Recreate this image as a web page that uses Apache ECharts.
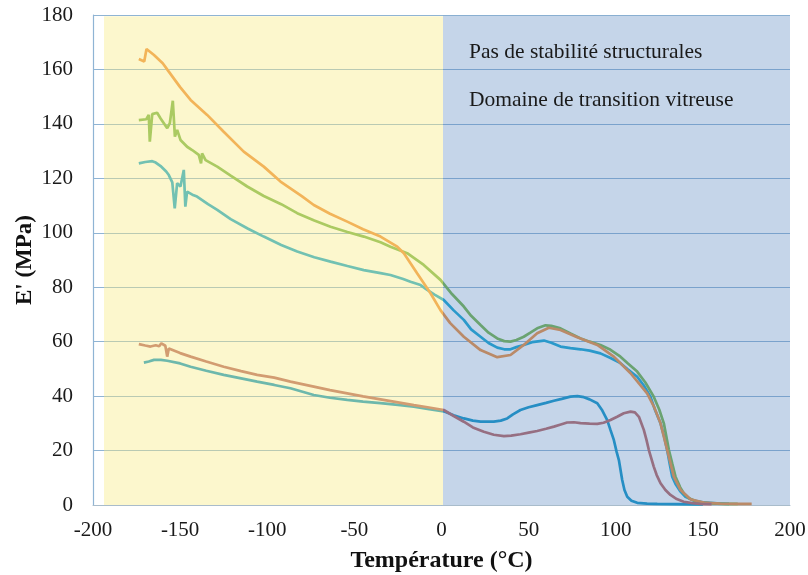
<!DOCTYPE html>
<html>
<head>
<meta charset="utf-8">
<script src="https://cdn.jsdelivr.net/npm/echarts@6/dist/echarts.min.js"></script>
<style>
  html, body { margin: 0; padding: 0; background: #ffffff; }
  #chart { width: 808px; height: 575px; }
</style>
</head>
<body>
<div id="chart"></div>
<script>
// Storage modulus E' (MPa) versus temperature (°C), five DMA runs.

// Upper orange run
const tempA = [-173.7, -170.6, -169.3, -165, -160, -156.5, -150, -144, -134.5, -125, -113.5, -102, -92.4, -80, -73.3, -64, -54.1, -45, -35, -25.4, -21.6, -14, -6.3, -0.6, 5, 12.8, 22.4, 32, 39.6, 47.2, 54.9, 61.6, 68.3, 77.9, 89.4, 98.9, 108.5, 118, 122, 125.7, 129.5, 133.3, 137.2, 142.9, 150.5, 160, 170, 178];
const modA  = [163.8, 162.9, 167.5, 165.3, 162.3, 159.2, 153.5, 148.8, 143.3, 137.1, 129.8, 124.3, 118.8, 113.4, 110.2, 107, 104.1, 101.3, 98.6, 94.9, 92.5, 85.1, 77.8, 71.6, 66.8, 61.8, 56.9, 54.3, 55.1, 58.8, 63.1, 65.1, 64.3, 61.6, 58.8, 54.5, 48.4, 41, 36, 30, 20.2, 10.4, 5.5, 2.1, 0.9, 0.5, 0.4, 0.4];

// Upper green run
const tempB = [-173.7, -169.4, -168, -167.4, -166, -163.2, -161.2, -157.4, -155.9, -154.2, -153, -151.7, -149.8, -146, -143.1, -139.3, -138, -137.4, -135.4, -128.7, -121, -111.5, -102, -92, -82.8, -73, -63.7, -54, -44.6, -35, -29.3, -19.7, -10.2, -0.6, 6, 12.8, 17, 22.4, 27, 32, 36, 39.6, 43, 47.2, 51, 54.9, 59.7, 63, 68.3, 74, 79.8, 85, 91.2, 97, 102.7, 107, 112.3, 117, 121.8, 125, 127.6, 130.5, 132.5, 134.3, 137, 139, 142, 146.7, 154, 162, 170];
const modB  = [141.4, 141.7, 143.3, 133.5, 143.6, 144.1, 142, 138.4, 140.3, 148.5, 135.3, 137.8, 134.1, 131.6, 130.4, 128.6, 125.5, 129.2, 126.7, 124.3, 121, 117, 113.5, 110.5, 107.2, 104.5, 102.2, 100.3, 98.6, 96.5, 94.9, 92.5, 88.2, 82.7, 77.5, 72.9, 69.5, 66.1, 63.3, 61.2, 60.2, 60, 60.6, 61.8, 63.3, 64.9, 66, 65.8, 64.9, 63, 61.2, 60, 58.8, 57, 54.5, 52, 49, 45, 39.8, 35, 30, 20.2, 15, 10.4, 6.5, 4.3, 2.5, 1.2, 0.6, 0.4, 0.4];

// Upper teal run
const tempC = [-173.7, -170, -166, -164, -161.2, -158, -156.5, -154.5, -153.1, -151.7, -149.8, -147.9, -147, -146, -143, -140.3, -134, -128.7, -121, -111, -102, -92, -82.8, -73, -63.7, -54, -44.6, -35, -29.3, -22, -17.8, -12, -8.2, -4, 1.3, 7, 12.8, 17, 22.4, 27, 32, 36, 39.6, 43, 47.2, 52, 58.8, 63, 68.3, 74, 79.8, 85, 91.2, 97, 102.7, 107, 112.3, 116, 119.9, 122.5, 125.7, 127.8, 129.5, 131, 132.4, 134.5, 137.2, 140, 144.8, 150, 158.2, 165];
const modC  = [125.5, 126, 126.3, 125.8, 124.5, 122.5, 121.2, 118.5, 109, 118.2, 117, 123.1, 109.6, 115.1, 114, 113.3, 110.5, 108.4, 105, 101.5, 98.6, 95.5, 93.1, 91, 89.4, 87.8, 86.3, 85.2, 84.5, 83, 82, 80.8, 79, 77.3, 75.3, 71.5, 68, 64.5, 61.8, 59.5, 57.8, 57.2, 57.2, 58, 58.8, 59.8, 60.4, 59.6, 58.2, 57.6, 57.2, 56.7, 55.7, 54, 52.1, 49.8, 47.1, 44, 39.8, 35, 30, 25, 20.2, 15, 10.4, 7.5, 4.9, 3, 1.6, 1, 0.6, 0.4];

// Lower tan run
const tempD = [-173.7, -170, -167, -164, -162, -160.8, -158.5, -157.4, -156.5, -155.5, -150, -144, -135, -125, -115, -105.8, -96, -86.7, -73.3, -64, -54.1, -45, -35, -25, -15.9, -8, 1.3, 7, 12.8, 18, 24.3, 30, 35.8, 40, 45.3, 50, 54.9, 60, 64.5, 68, 72.1, 76, 79.8, 85, 89.4, 93, 97, 100.8, 104.6, 108.5, 111, 113.3, 116.1, 117.6, 119, 121.8, 123.5, 125.7, 128.5, 131.4, 135, 139, 144, 148.6, 155];
const modD  = [59.1, 58.6, 58.2, 58.7, 58.3, 59.4, 58.5, 54.5, 57.5, 56.9, 55.8, 54.5, 52.7, 50.8, 49.2, 47.8, 46.8, 45.3, 43.5, 42.2, 41, 39.9, 38.8, 37.7, 36.7, 35.9, 34.9, 32.7, 30.6, 28.5, 26.9, 25.8, 25.3, 25.5, 26, 26.6, 27.2, 28, 28.8, 29.5, 30.3, 30.4, 30.1, 29.9, 29.8, 30.2, 31.2, 32.4, 33.7, 34.3, 34, 32.4, 27.6, 24, 20.2, 14.1, 11, 8, 5.5, 3.7, 2.2, 1.2, 0.7, 0.4, 0.3];

// Lower teal run
const tempE = [-170.8, -168, -165, -161, -157.4, -150, -144, -135, -125, -115, -105.8, -96, -86.7, -73.3, -64, -54.1, -45, -35, -25, -15.9, -8, 1.3, 7, 12.8, 18, 22.4, 30, 34, 37.7, 41, 45.3, 50, 54.9, 60, 64.5, 69, 74, 78, 81.7, 85, 89.4, 92, 95.1, 97, 98.9, 100.5, 101.8, 103.7, 105, 106.6, 109, 112.3, 118, 123.8, 135, 146.7, 150];
const modE  = [52.3, 52.7, 53.3, 53.3, 53, 52, 50.8, 49.3, 47.8, 46.5, 45.3, 44.1, 42.9, 40.4, 39.4, 38.6, 38, 37.4, 36.8, 36.1, 35.3, 34.4, 33, 31.8, 31, 30.6, 30.6, 31, 31.8, 33.3, 34.9, 35.9, 36.7, 37.5, 38.3, 39, 39.8, 40, 39.6, 38.8, 37.4, 35, 31.2, 27.5, 23.9, 19.5, 16.5, 9.2, 5.5, 3, 1.6, 0.8, 0.5, 0.4, 0.3, 0.2, 0.2];

// Temperature bands laid over the curves: [from, to, top]
const bandLow  = [-193.7, 1, 179.5];
const bandHigh = [1, 200, 179.7];
const bandFill = ['rgba(247,236,130,0.40)', 'rgba(79,129,189,0.33)'];

// Axis ticks
const xTicks = { min: -200, max: 200, step: 50 };
const yTicks = { min: 0, max: 180, step: 20 };

const serif = "'Liberation Serif', 'Times New Roman', serif";

function pairs(t, v) { return t.map((x, i) => [x, v[i]]); }

const runs = [
  { name: 'C', t: tempC, v: modC, color: 'rgb(25,166,210)' },
  { name: 'B', t: tempB, v: modB, color: 'rgb(120,181,77)' },
  { name: 'A', t: tempA, v: modA, color: 'rgb(239,143,63)' },
  { name: 'E', t: tempE, v: modE, color: 'rgb(18,150,200)' },
  { name: 'D', t: tempD, v: modD, color: 'rgb(186,104,102)' }
];

const series = runs.map((r, i) => ({
  name: r.name,
  type: 'line',
  data: pairs(r.t, r.v),
  showSymbol: false,
  symbol: 'none',
  lineStyle: { width: 2.7, color: r.color },
  z: 3 + i
}));

// Translucent temperature bands drawn above the curves
series.push({
  type: 'custom',
  silent: true,
  z: 20,
  clip: false,
  encode: { x: [0, 1], y: 2 },
  data: [bandLow, bandHigh],
  renderItem: function (params, api) {
    const p0 = api.coord([api.value(0), api.value(2)]);
    const p1 = api.coord([api.value(1), 0]);
    const x0 = Math.round(p0[0]), x1 = Math.round(p1[0]);
    return {
      type: 'rect',
      shape: { x: x0, y: p0[1], width: x1 - x0, height: p1[1] - p0[1] },
      style: { fill: bandFill[params.dataIndex], stroke: null, lineWidth: 0 }
    };
  }
});

const chart = echarts.init(document.getElementById('chart'), null, { renderer: 'canvas' });
chart.setOption({
  animation: false,
  backgroundColor: '#ffffff',
  grid: { left: 93, right: 18, top: 15, bottom: 70, containLabel: false, outerBoundsMode: 'none' },
  xAxis: {
    type: 'value',
    min: xTicks.min, max: xTicks.max, interval: xTicks.step,
    name: 'Température (°C)',
    nameLocation: 'middle',
    nameGap: 44,
    nameMoveOverlap: false,
    nameTextStyle: { fontFamily: serif, fontWeight: 'bold', fontSize: 24, color: '#111' },
    axisLine: { show: true, onZero: false, lineStyle: { color: '#a9bccb', width: 1 } },
    axisTick: { show: false },
    splitLine: { show: false },
    axisLabel: { fontFamily: serif, fontSize: 21, color: '#1a1a1a', margin: 15 }
  },
  yAxis: {
    type: 'value',
    min: yTicks.min, max: yTicks.max, interval: yTicks.step,
    name: "E' (MPa)",
    nameLocation: 'middle',
    nameGap: 56,
    nameMoveOverlap: false,
    nameTextStyle: { fontFamily: serif, fontWeight: 'bold', fontSize: 23, color: '#111' },
    axisLine: { show: true, onZero: false, lineStyle: { color: '#8fb4d4', width: 1.2 } },
    axisTick: { show: false },
    splitLine: { show: true, lineStyle: { color: '#8fb4d4', width: 1.2 } },
    axisLabel: { fontFamily: serif, fontSize: 21, color: '#1a1a1a', margin: 20 }
  },
  series: series,
  graphic: [
    {
      type: 'text', x: 469, y: 52, z: 100,
      style: { text: 'Pas de stabilité structurales', font: '21.5px ' + serif, fill: '#1a1a1a', verticalAlign: 'middle' }
    },
    {
      type: 'text', x: 469, y: 100, z: 100,
      style: { text: 'Domaine de transition vitreuse', font: '21.5px ' + serif, fill: '#1a1a1a', verticalAlign: 'middle' }
    }
  ]
});
</script>
</body>
</html>
